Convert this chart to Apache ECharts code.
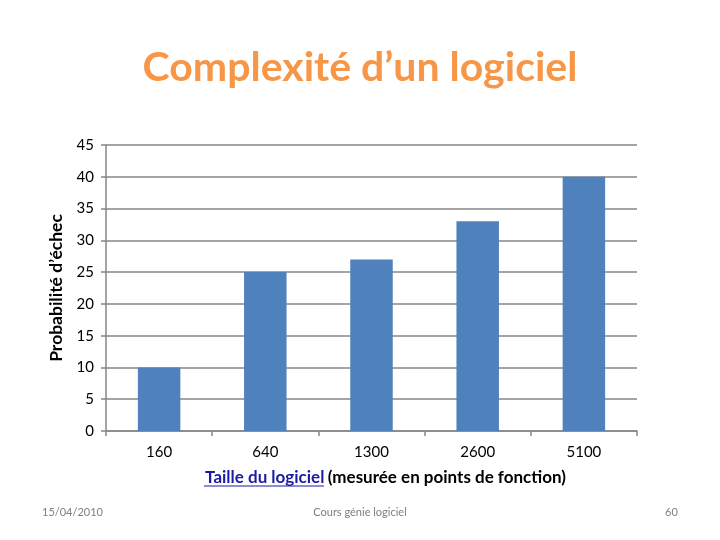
<!DOCTYPE html>
<html><head><meta charset="utf-8">
<script src="https://cdn.jsdelivr.net/npm/echarts@6/dist/echarts.min.js"></script>
<style>html,body{margin:0;padding:0;background:#fff}#c{width:720px;height:540px}</style>
</head><body><div id="c"></div>
<script>
const categories = ['160', '640', '1300', '2600', '5100'];
const values = [10, 25, 27, 33, 40];
const yTicks = { min: 0, max: 45, interval: 5 };

const chart = echarts.init(document.getElementById('c'));
chart.setOption({
  animation: false,
  backgroundColor: '#fff',
  title: {
    text: 'Complexité d’un logiciel',
    left: 'center', top: 42,
    textStyle: { fontFamily: 'Lato', fontWeight: 'bold', fontSize: 41, color: '#F79646' }
  },
  grid: { left: 106, right: 83, top: 145, bottom: 109 },
  xAxis: {
    type: 'category', data: categories,
    axisLine: { lineStyle: { color: '#868686', width: 1.5 } },
    axisTick: { show: true, length: 5, lineStyle: { color: '#868686', width: 1.5 } },
    axisLabel: { color: '#000', fontFamily: 'Lato', fontSize: 15, margin: 14 },
    name: '{a|Taille du logiciel} {b|(mesurée en points de fonction)}',
    nameLocation: 'middle', nameGap: 38,
    nameTextStyle: {
      padding: [0, 0, 0, 28],
      rich: {
        a: { fontFamily: 'Lato', fontWeight: 'bold', fontSize: 17, color: '#1A1AA6' },
        b: { fontFamily: 'Lato', fontWeight: 'bold', fontSize: 17, color: '#000' }
      }
    }
  },
  yAxis: {
    type: 'value', min: yTicks.min, max: yTicks.max, interval: yTicks.interval,
    axisLine: { show: true, lineStyle: { color: '#868686', width: 1.5 } },
    axisTick: { show: true, length: 5, lineStyle: { color: '#868686', width: 1.5 } },
    splitLine: { lineStyle: { color: '#868686', width: 1.5 } },
    axisLabel: { color: '#000', fontFamily: 'Lato', fontSize: 15, margin: 12 },
    name: 'Probabilité d’échec', nameLocation: 'middle', nameGap: 38,
    nameTextStyle: { fontFamily: 'Lato', fontWeight: 'bold', fontSize: 17.5, color: '#000' }
  },
  series: [{
    type: 'bar', data: values, barWidth: '40%',
    itemStyle: { color: '#4F81BD' }
  }],
  graphic: [
    { type: 'line', shape: { x1: 204, y1: 486, x2: 324, y2: 486 }, style: { stroke: '#1A1AA6', lineWidth: 1.2 } },
    { type: 'text', left: 42, top: 507, style: { text: '15/04/2010', fontFamily: 'Lato', fontSize: 11, fill: '#7F7F7F' } },
    { type: 'text', left: 'center', top: 507, style: { text: 'Cours génie logiciel', fontFamily: 'Lato', fontSize: 11, fill: '#7F7F7F' } },
    { type: 'text', left: 665, top: 507, style: { text: '60', fontFamily: 'Lato', fontSize: 11, fill: '#7F7F7F' } }
  ]
});
</script></body></html>
